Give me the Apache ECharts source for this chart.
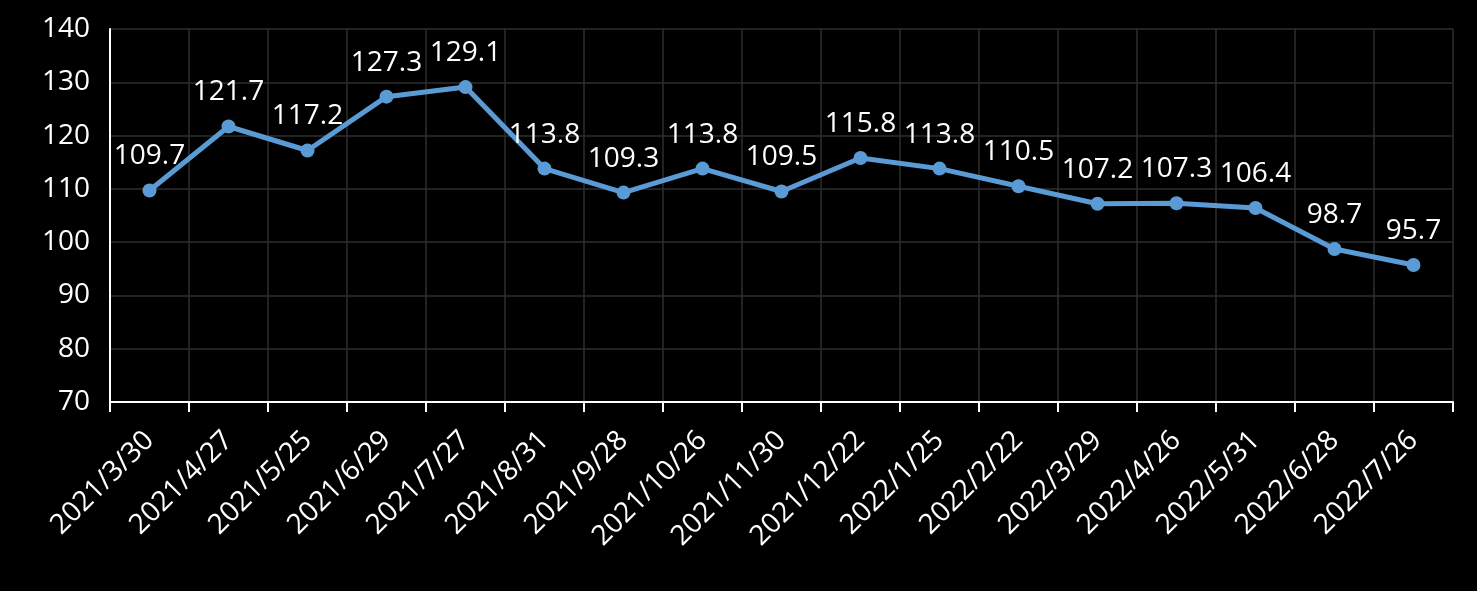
<!DOCTYPE html>
<html><head><meta charset="utf-8">
<script src="https://cdn.jsdelivr.net/npm/echarts@6/dist/echarts.min.js"></script>
<style>html,body{margin:0;padding:0;background:#000;}#c{width:1477px;height:591px;}</style>
</head><body><div id="c"></div>
<script>
const categories = ['2021/3/30','2021/4/27','2021/5/25','2021/6/29','2021/7/27','2021/8/31','2021/9/28','2021/10/26','2021/11/30','2021/12/22','2022/1/25','2022/2/22','2022/3/29','2022/4/26','2022/5/31','2022/6/28','2022/7/26'];
const values = [109.7,121.7,117.2,127.3,129.1,113.8,109.3,113.8,109.5,115.8,113.8,110.5,107.2,107.3,106.4,98.7,95.7];
const yMin = 70, yMax = 140, yStep = 10;
const font = '"Open Sans", "Noto Sans", sans-serif';
const chart = echarts.init(document.getElementById('c'));
chart.setOption({
  backgroundColor: '#000',
  animation: false,
  grid: {left: 110, right: 24, top: 29, bottom: 189},
  xAxis: {
    type: 'category', data: categories, boundaryGap: true,
    axisLine: {lineStyle: {color: '#fff', width: 2}},
    axisTick: {show: true, length: 10, lineStyle: {color: '#fff', width: 2}},
    splitLine: {show: true, lineStyle: {color: '#2e2e2e', width: 1.5}},
    axisLabel: {color: '#fff', fontSize: 28, rotate: 45, margin: 34, fontFamily: font, interval: 0}
  },
  yAxis: {
    type: 'value', min: yMin, max: yMax, interval: yStep,
    axisLine: {show: true, lineStyle: {color: '#fff', width: 2}},
    axisTick: {show: false},
    splitLine: {lineStyle: {color: '#2e2e2e', width: 1.5}},
    axisLabel: {color: '#fff', fontSize: 28, margin: 20, fontFamily: font}
  },
  series: [{
    type: 'line', data: values,
    lineStyle: {color: '#5b9bd5', width: 5},
    itemStyle: {color: '#5b9bd5'},
    symbol: 'circle', symbolSize: 14,
    label: {show: true, position: 'top', distance: 13, color: '#fff', fontSize: 28, fontFamily: font,
      formatter: p => p.value.toFixed(1)}
  }]
});
</script></body></html>
